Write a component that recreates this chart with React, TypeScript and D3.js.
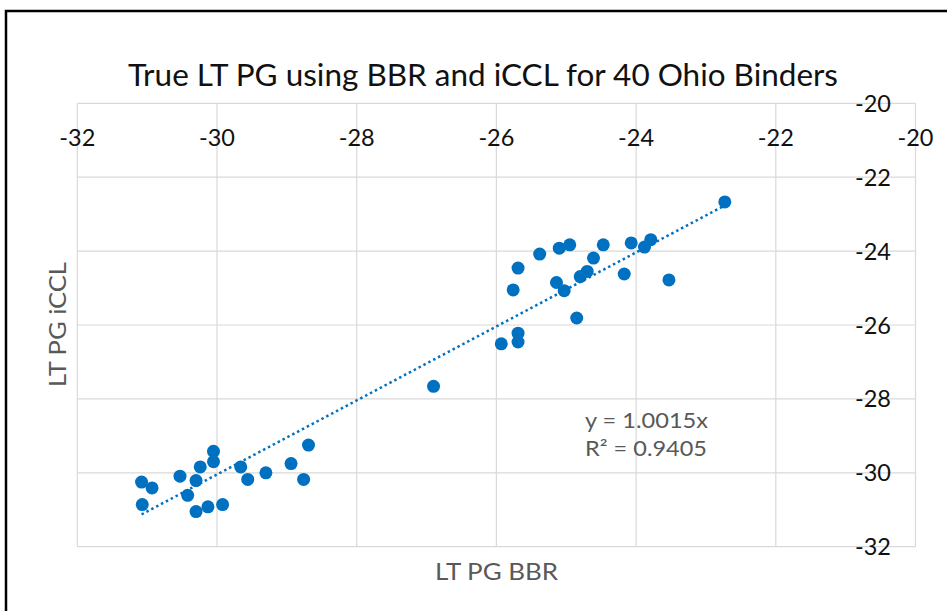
import { useMemo } from "react";
import * as d3 from "d3";

const W = 947;
const H = 611;
const PLOT = { left: 77.3, right: 915.5, top: 103.3, bottom: 546.7 };

const TITLE = "True LT PG using BBR and iCCL for 40 Ohio Binders";
const X_TITLE = "LT PG BBR";
const Y_TITLE = "LT PG iCCL";
const X_TICKS = [-32, -30, -28, -26, -24, -22, -20];
const Y_TICKS = [-32, -30, -28, -26, -24, -22, -20];
const SLOPE = 1.0015;
const EQ_LINES = ["y = 1.0015x", "R² = 0.9405"];

// BBR (x) and iCCL (y) true LT PG
const bbr = [
  -31.08, -30.93, -31.07, -30.53, -30.24, -30.3, -30.42, -30.3, -30.13, -29.92,
  -30.05, -30.05, -29.66, -29.56, -29.3, -28.94, -28.76, -28.69, -26.9, -25.93,
  -25.69, -25.69, -25.76, -25.69, -25.38, -25.1, -24.95, -25.14, -25.03, -24.85,
  -24.8, -24.7, -24.61, -24.47, -24.17, -24.07, -23.88, -23.79, -23.53, -22.73,
];
const iccl = [
  -30.25, -30.41, -30.86, -30.09, -29.84, -30.21, -30.61, -31.05, -30.92, -30.86,
  -29.42, -29.7, -29.84, -30.18, -30.0, -29.75, -30.18, -29.25, -27.66, -26.51,
  -26.22, -26.46, -25.05, -24.46, -24.08, -23.92, -23.83, -24.85, -25.07, -25.81,
  -24.69, -24.55, -24.19, -23.83, -24.62, -23.78, -23.89, -23.69, -24.78, -22.67,
];

const BLUE = "#0070C0";
const GRID = "#d9d9d9";
const FONT = "Lato, 'Open Sans', sans-serif";

export default function App() {
  const x = useMemo(
    () => d3.scaleLinear().domain([-32, -20]).range([PLOT.left, PLOT.right]),
    []
  );
  const y = useMemo(
    () => d3.scaleLinear().domain([-32, -20]).range([PLOT.bottom, PLOT.top]),
    []
  );

  const points = bbr.map((b, i) => ({ x: b, y: iccl[i] }));
  const [xMin, xMax] = d3.extent(bbr) as [number, number];
  const trend = d3
    .line<number>()
    .x((d) => x(d))
    .y((d) => y(d * SLOPE))([xMin, xMax]);

  return (
    <svg
      width={W}
      height={H}
      style={{ position: "absolute", left: 0, top: 0, background: "#fff" }}
      fontFamily={FONT}
    >
      <rect x={0} y={0} width={W} height={H} fill="#fff" />
      {/* outer frame, runs off the right and bottom edges */}
      <rect x={6} y={11} width={W + 20} height={H + 20} fill="none" stroke="#000" strokeWidth={2.5} />

      <text x={128} y={86} fontSize={30} fill="#111" textLength={710} lengthAdjust="spacingAndGlyphs">
        {TITLE}
      </text>

      {/* grid */}
      {X_TICKS.map((t) => (
        <line key={"gx" + t} x1={x(t)} x2={x(t)} y1={PLOT.top} y2={PLOT.bottom} stroke={GRID} strokeWidth={1.2} />
      ))}
      {Y_TICKS.map((t) => (
        <line key={"gy" + t} x1={PLOT.left} x2={PLOT.right} y1={y(t)} y2={y(t)} stroke={GRID} strokeWidth={1.2} />
      ))}

      {/* tick labels */}
      {X_TICKS.map((t) => (
        <text key={"tx" + t} x={x(t)} y={145.5} textAnchor="middle" fontSize={23.5} fill="#111">
          {String(t)}
        </text>
      ))}
      {Y_TICKS.map((t) => (
        <text key={"ty" + t} x={891} y={y(t) + 8.5} textAnchor="end" fontSize={23.5} fill="#111">
          {String(t)}
        </text>
      ))}

      {/* trendline */}
      <path d={trend ?? ""} fill="none" stroke={BLUE} strokeWidth={2.5} strokeDasharray="2.5 3" />

      {points.map((p, i) => (
        <circle key={i} cx={x(p.x)} cy={y(p.y)} r={6.5} fill={BLUE} />
      ))}

      {EQ_LINES.map((s, i) => (
        <text
          key={s}
          x={585}
          y={427.5 + i * 28}
          fontSize={21}
          fill="#595959"
          textLength={i === 0 ? 123 : 122}
          lengthAdjust="spacingAndGlyphs"
        >
          {s}
        </text>
      ))}

      <text x={435} y={580} fontSize={24} fill="#595959" textLength={123} lengthAdjust="spacingAndGlyphs">
        {X_TITLE}
      </text>
      <text
        transform={`translate(66, 387) rotate(-90)`}
        fontSize={24}
        fill="#595959"
        textLength={125}
        lengthAdjust="spacingAndGlyphs"
      >
        {Y_TITLE}
      </text>
    </svg>
  );
}
